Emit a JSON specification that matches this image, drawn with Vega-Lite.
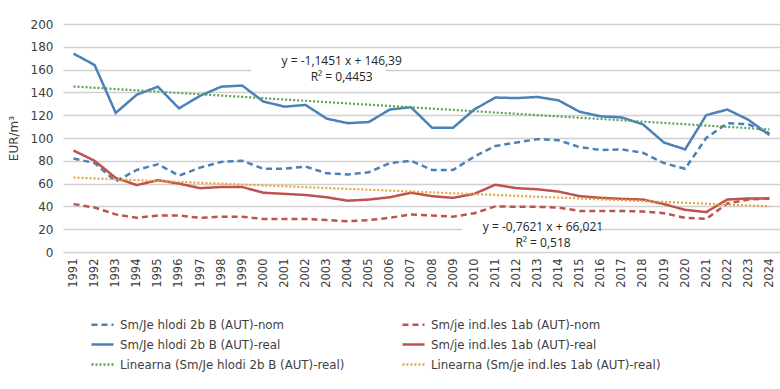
{
  "$schema": "https://vega.github.io/schema/vega-lite/v6.json",
  "width": 717,
  "height": 228,
  "autosize": {"type": "none"},
  "padding": {"left": 63, "top": 24, "right": 0, "bottom": 137},
  "background": "white",
  "config": {
    "font": "DejaVu Sans",
    "view": {"stroke": null},
    "axis": {"labelColor": "#404040", "titleColor": "#404040", "labelFont": "DejaVu Sans", "titleFont": "DejaVu Sans"}
  },
  "datasets": {
    "main": [
      {"year": "1991", "bn": 82, "br": 174, "rn": 42, "rr": 89},
      {"year": "1992", "bn": 78, "br": 164, "rn": 39, "rr": 80},
      {"year": "1993", "bn": 62, "br": 122, "rn": 33, "rr": 65},
      {"year": "1994", "bn": 72, "br": 138, "rn": 30, "rr": 58.7},
      {"year": "1995", "bn": 77, "br": 145, "rn": 32, "rr": 63},
      {"year": "1996", "bn": 67, "br": 126, "rn": 32, "rr": 60},
      {"year": "1997", "bn": 74, "br": 137, "rn": 30, "rr": 56},
      {"year": "1998", "bn": 79, "br": 145, "rn": 31, "rr": 57},
      {"year": "1999", "bn": 80, "br": 146, "rn": 31, "rr": 57},
      {"year": "2000", "bn": 73, "br": 132, "rn": 29, "rr": 52},
      {"year": "2001", "bn": 73, "br": 127.5, "rn": 29, "rr": 51},
      {"year": "2002", "bn": 75, "br": 129, "rn": 29, "rr": 50},
      {"year": "2003", "bn": 69, "br": 117, "rn": 28, "rr": 48},
      {"year": "2004", "bn": 68, "br": 113, "rn": 27, "rr": 45},
      {"year": "2005", "bn": 70, "br": 114, "rn": 28, "rr": 46},
      {"year": "2006", "bn": 78, "br": 125, "rn": 30, "rr": 48},
      {"year": "2007", "bn": 80, "br": 127, "rn": 33, "rr": 52},
      {"year": "2008", "bn": 72, "br": 109, "rn": 32, "rr": 49},
      {"year": "2009", "bn": 72, "br": 109, "rn": 31, "rr": 47.5},
      {"year": "2010", "bn": 83.6, "br": 125, "rn": 34, "rr": 51},
      {"year": "2011", "bn": 93, "br": 135.5, "rn": 40, "rr": 59},
      {"year": "2012", "bn": 96, "br": 135, "rn": 39.6, "rr": 56},
      {"year": "2013", "bn": 99, "br": 136, "rn": 39.6, "rr": 55},
      {"year": "2014", "bn": 98, "br": 133, "rn": 39, "rr": 53},
      {"year": "2015", "bn": 92, "br": 123, "rn": 36, "rr": 49},
      {"year": "2016", "bn": 89.5, "br": 119, "rn": 36, "rr": 47.5},
      {"year": "2017", "bn": 90, "br": 118, "rn": 36, "rr": 46.6},
      {"year": "2018", "bn": 87, "br": 112, "rn": 35.5, "rr": 46},
      {"year": "2019", "bn": 78, "br": 96, "rn": 34, "rr": 42},
      {"year": "2020", "bn": 73, "br": 90, "rn": 30, "rr": 37},
      {"year": "2021", "bn": 100, "br": 120, "rn": 29, "rr": 35},
      {"year": "2022", "bn": 113, "br": 125, "rn": 42.5, "rr": 46},
      {"year": "2023", "bn": 112, "br": 116, "rn": 46, "rr": 47},
      {"year": "2024", "bn": 104, "br": 102.6, "rn": 47, "rr": 47}
    ],
    "trend": [
      {"year": "1991", "series": "tb", "value": 145.2},
      {"year": "2024", "series": "tb", "value": 107.5},
      {"year": "1991", "series": "tr", "value": 65.3},
      {"year": "2024", "series": "tr", "value": 40.1}
    ],
    "boxes": [
      {"a": "2000", "b": "2007", "lo": 146, "hi": 176},
      {"a": "2010", "b": "2016", "lo": 2, "hi": 28}
    ],
    "notes1": [
      {"year": "2004", "value": 167.8, "text": "y = -1,1451 x + 146,39"},
      {"year": "2004", "value": 153.6, "text": "R² = 0,4453"}
    ],
    "notes2": [
      {"year": "2013", "value": 22, "text": "y = -0,7621 x + 66,021"},
      {"year": "2013", "value": 7.9, "text": "R² = 0,518"}
    ]
  },
  "encoding": {
    "x": {
      "field": "year", "type": "ordinal",
      "scale": {"type": "point", "padding": 0.5, "domain": ["1991","1992","1993","1994","1995","1996","1997","1998","1999","2000","2001","2002","2003","2004","2005","2006","2007","2008","2009","2010","2011","2012","2013","2014","2015","2016","2017","2018","2019","2020","2021","2022","2023","2024"]},
      "axis": {"title": null, "labelAngle": 270, "labelFontSize": 11.5, "labelPadding": 6, "ticks": false, "domain": false, "grid": false, "labelOverlap": false}
    },
    "y": {
      "field": "value", "type": "quantitative",
      "scale": {"domain": [0, 200], "nice": false},
      "axis": {"title": "EUR/m³", "titleFontWeight": "normal", "titleFontSize": 12, "titlePadding": 10, "values": [0,20,40,60,80,100,120,140,160,180,200], "labelOverlap": false, "labelFontSize": 12, "labelPadding": 10, "ticks": false, "domain": false, "gridColor": "#d0d0d0", "gridWidth": 1.5}
    }
  },
  "layer": [
    {
      "data": {"name": "boxes"},
      "mark": {"type": "rect", "color": "white", "xOffset": -12, "x2Offset": -25},
      "encoding": {
        "x": {"field": "a", "type": "ordinal"},
        "x2": {"field": "b"},
        "y": {"field": "lo", "type": "quantitative"},
        "y2": {"field": "hi"}
      }
    },
    {
      "data": {"name": "main"},
      "transform": [{"fold": ["bn", "br", "rn", "rr"], "as": ["series", "value"]}],
      "mark": {"type": "line", "strokeWidth": 2.5},
      "encoding": {
        "color": {"field": "series", "type": "nominal", "title": null},
        "strokeDash": {"field": "series", "type": "nominal", "title": null}
      }
    },
    {
      "data": {"name": "trend"},
      "mark": {"type": "line", "strokeWidth": 2.2},
      "encoding": {
        "color": {"field": "series", "type": "nominal", "title": null,
          "scale": {"domain": ["bn", "br", "tb", "rn", "rr", "tr"], "range": ["#4a81b8", "#4a81b8", "#5aa05a", "#c0524d", "#c0524d", "#e8a33a"]},
          "legend": {
            "orient": "none", "legendX": 27, "legendY": 288, "columns": 2, "columnPadding": 52, "rowPadding": -1.5,
            "symbolType": "stroke", "symbolSize": 484, "symbolStrokeWidth": 2.5, "labelFontSize": 11.8, "labelColor": "#404040", "labelOffset": 5, "labelLimit": 400, "padding": 0,
            "labelExpr": "datum.label == 'bn' ? 'Sm/Je hlodi 2b B (AUT)-nom' : datum.label == 'br' ? 'Sm/Je hlodi 2b B (AUT)-real' : datum.label == 'rn' ? 'Sm/je ind.les 1ab (AUT)-nom' : datum.label == 'rr' ? 'Sm/je ind.les 1ab (AUT)-real' : datum.label == 'tb' ? 'Linearna (Sm/Je hlodi 2b B (AUT)-real)' : 'Linearna (Sm/je ind.les 1ab (AUT)-real)'"
          }
        },
        "strokeDash": {"field": "series", "type": "nominal", "title": null,
          "scale": {"domain": ["bn", "br", "tb", "rn", "rr", "tr"], "range": [[6, 4], [1, 0], [2, 2], [6, 4], [1, 0], [2, 2]]}
        }
      }
    },
    {
      "data": {"name": "notes1"},
      "mark": {"type": "text", "font": "Open Sans", "fontSize": 12, "color": "#262626", "dx": -6, "align": "center", "baseline": "middle"},
      "encoding": {"text": {"field": "text"}}
    },
    {
      "data": {"name": "notes2"},
      "mark": {"type": "text", "font": "Open Sans", "fontSize": 12, "color": "#262626", "dx": 5.5, "align": "center", "baseline": "middle"},
      "encoding": {"text": {"field": "text"}}
    }
  ]
}
